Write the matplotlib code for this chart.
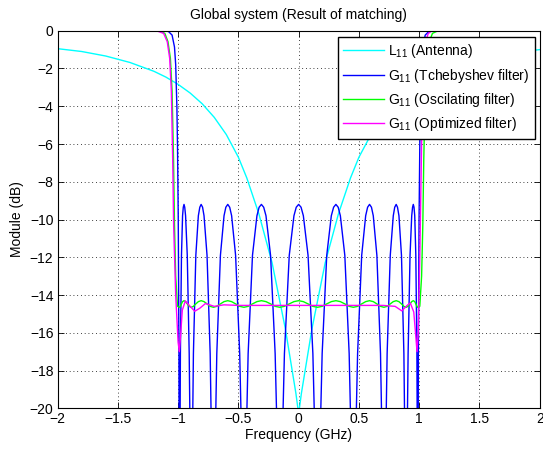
import matplotlib
matplotlib.use("Agg")
import matplotlib.pyplot as plt

plt.rcParams['font.family'] = ['Liberation Sans', 'DejaVu Sans']
plt.rcParams['mathtext.fontset'] = 'custom'
plt.rcParams['mathtext.rm'] = 'Liberation Sans'
plt.rcParams['font.size'] = 10

# L11 of the antenna alone
ant_f = [-2.0, -1.8, -1.6, -1.4, -1.2, -1.1, -1.0, -0.9, -0.8, -0.7, -0.6, -0.5, -0.43, -0.33,
         -0.22, -0.11, -0.023, 0.0,
         0.023, 0.11, 0.22, 0.33, 0.43, 0.5, 0.6, 0.7, 0.8, 0.9, 1.0, 1.1, 1.2, 1.4, 1.6, 1.8, 2.0]
ant_db = [-0.95, -1.1, -1.34, -1.68, -2.15, -2.46, -2.84, -3.3, -3.87, -4.59, -5.5, -6.7, -7.8, -9.7,
          -12.3, -15.8, -19.2, -20.3,
          -19.2, -15.8, -12.3, -9.7, -7.8, -6.7, -5.5, -4.59, -3.87, -3.3, -2.84, -2.46, -2.15, -1.68, -1.36,
          -1.14, -1.0]

# G11 with the Tchebyshev filter (nulls read below the axis at -40)
cheb_f = [-2.0, -1.12, -1.08, -1.05, -1.03, -1.02, -1.01, -1.005, -1.0,
          -0.999, -0.997, -0.993, -0.992, -0.988,
          -0.983, -0.981, -0.972, -0.963, -0.957, -0.951, -0.945, -0.938, -0.924, -0.908, -0.903, -0.891,
          -0.878, -0.873, -0.853, -0.832, -0.820, -0.809, -0.797, -0.785, -0.760, -0.734, -0.727, -0.707,
          -0.687, -0.679, -0.649, -0.619, -0.604, -0.588, -0.572, -0.556, -0.523, -0.489, -0.479, -0.454,
          -0.429, -0.419, -0.383, -0.346, -0.328, -0.309, -0.290, -0.271, -0.233, -0.195, -0.184, -0.156,
          -0.129, -0.118, -0.078, -0.039, -0.020, 0.0, 0.020, 0.039, 0.078, 0.118, 0.129,
          0.156, 0.184, 0.195, 0.233, 0.271, 0.290, 0.309, 0.328, 0.346, 0.383, 0.419, 0.429,
          0.454, 0.479, 0.489, 0.523, 0.556, 0.572, 0.588, 0.604, 0.619, 0.649, 0.679, 0.687,
          0.707, 0.727, 0.734, 0.760, 0.785, 0.797, 0.809, 0.820, 0.832, 0.853, 0.873, 0.878,
          0.891, 0.903, 0.908, 0.924, 0.938, 0.945, 0.951, 0.957, 0.963, 0.972, 0.981, 0.983,
          0.988, 0.992, 0.993, 0.997, 0.999,
          1.0, 1.005, 1.01, 1.02, 1.03, 1.05, 1.08, 1.12, 2.0]
cheb_db = [0.0, 0.0, -0.04, -0.23, -0.86, -1.8, -4.05, -6.1, -9.2,
           -9.8, -11.9, -17.1, -20.0, -40.0,
           -20.0, -17.1, -11.9, -9.8, -9.35, -9.2, -9.35, -9.8, -11.9, -17.1, -20.0, -40.0,
           -20.0, -17.1, -11.9, -9.8, -9.35, -9.2, -9.35, -9.8, -11.9, -17.1, -20.0, -40.0,
           -20.0, -17.1, -11.9, -9.8, -9.35, -9.2, -9.35, -9.8, -11.9, -17.1, -20.0, -40.0,
           -20.0, -17.1, -11.9, -9.8, -9.35, -9.2, -9.35, -9.8, -11.9, -17.1, -20.0, -40.0,
           -20.0, -17.1, -11.9, -9.8, -9.35, -9.2, -9.35, -9.8, -11.9, -17.1, -20.0,
           -40.0, -20.0, -17.1, -11.9, -9.8, -9.35, -9.2, -9.35, -9.8, -11.9, -17.1, -20.0,
           -40.0, -20.0, -17.1, -11.9, -9.8, -9.35, -9.2, -9.35, -9.8, -11.9, -17.1, -20.0,
           -40.0, -20.0, -17.1, -11.9, -9.8, -9.35, -9.2, -9.35, -9.8, -11.9, -17.1, -20.0,
           -40.0, -20.0, -17.1, -11.9, -9.8, -9.35, -9.2, -9.35, -9.8, -11.9, -17.1, -20.0,
           -40.0, -20.0, -17.1, -11.9, -9.8,
           -9.2, -6.1, -4.05, -1.8, -0.86, -0.23, -0.04, 0.0, 0.0]

# G11 with the oscillating filter
osc_f = [-2.0, -1.2, -1.15, -1.11, -1.084, -1.064, -1.05, -1.038, -1.03, -1.02, -1.005,
         -0.988, -0.981, -0.972, -0.963, -0.951, -0.938, -0.924, -0.908, -0.891,
         -0.873, -0.853, -0.832, -0.809, -0.785, -0.760, -0.734, -0.707,
         -0.679, -0.649, -0.619, -0.588, -0.556, -0.523, -0.489, -0.454,
         -0.419, -0.383, -0.346, -0.309, -0.271, -0.233, -0.195, -0.156,
         -0.118, -0.078, -0.039, 0.0, 0.039, 0.078, 0.118,
         0.156, 0.195, 0.233, 0.271, 0.309, 0.346, 0.383, 0.419,
         0.454, 0.489, 0.523, 0.556, 0.588, 0.619, 0.649, 0.679,
         0.707, 0.734, 0.760, 0.785, 0.809, 0.832, 0.853, 0.873,
         0.891, 0.908, 0.924, 0.938, 0.951, 0.963, 0.972, 0.981, 0.988,
         1.005, 1.02, 1.03, 1.038, 1.05, 1.064, 1.084, 1.11, 1.15, 1.2, 2.0]
osc_db = [0.0, 0.0, -0.02, -0.14, -0.58, -1.46, -3.2, -6.8, -10.3, -13.0, -14.6,
          -14.65, -14.6, -14.47, -14.35, -14.3, -14.35, -14.47, -14.6, -14.65,
          -14.6, -14.47, -14.35, -14.3, -14.35, -14.47, -14.6, -14.65,
          -14.6, -14.47, -14.35, -14.3, -14.35, -14.47, -14.6, -14.65,
          -14.6, -14.47, -14.35, -14.3, -14.35, -14.47, -14.6, -14.65,
          -14.6, -14.47, -14.35, -14.3, -14.35, -14.47, -14.6,
          -14.65, -14.6, -14.47, -14.35, -14.3, -14.35, -14.47, -14.6,
          -14.65, -14.6, -14.47, -14.35, -14.3, -14.35, -14.47, -14.6,
          -14.65, -14.6, -14.47, -14.35, -14.3, -14.35, -14.47, -14.6,
          -14.65, -14.6, -14.47, -14.35, -14.3, -14.35, -14.47, -14.6, -14.65,
          -14.6, -13.0, -10.3, -6.8, -3.2, -1.46, -0.58, -0.14, -0.02, 0.0, 0.0]

# G11 with the optimized filter
opt_f = [-2.0, -1.18, -1.12, -1.09, -1.07, -1.056, -1.045, -1.037, -1.02, -1.0, -0.99, -0.98,
         -0.965, -0.94, -0.90, -0.862, -0.82, -0.773, -0.70, -0.62, -0.5, -0.4, -0.3, -0.2, -0.1, 0.0,
         0.1, 0.2, 0.3, 0.4, 0.5, 0.6, 0.7, 0.8, 0.856, 0.90, 0.926, 0.955, 0.972, 0.982,
         0.992, 1.005, 1.015, 1.025, 1.035, 1.05, 1.075, 1.1, 1.18, 2.0]
opt_db = [0.0, 0.0, -0.14, -0.58, -1.46, -3.2, -6.8, -10.3, -14.0, -16.5, -17.0, -16.2,
          -14.8, -14.31, -14.6, -14.86, -14.7, -14.45, -14.6, -14.52, -14.55, -14.55, -14.55, -14.55, -14.55, -14.55,
          -14.55, -14.55, -14.55, -14.55, -14.55, -14.55, -14.55, -14.6, -14.84, -14.55, -14.42, -14.9, -16.2, -17.0,
          -16.0, -12.0, -8.0, -4.0, -1.8, -0.6, -0.15, -0.03, 0.0, 0.0]

freq_ticks = [-2, -1.5, -1, -0.5, 0, 0.5, 1, 1.5, 2]
freq_labels = ['\u22122', '\u22121.5', '\u22121', '\u22120.5', '0', '0.5', '1', '1.5', '2']
db_ticks = [0, -2, -4, -6, -8, -10, -12, -14, -16, -18, -20]

fig = plt.figure(figsize=(5.43, 4.5), dpi=100)
ax = fig.add_axes([0.106, 0.0927, 0.888, 0.839])

ax.plot(ant_f, ant_db, color=(0.0, 1.0, 1.0), lw=1.0, label=r'L$_{11}$ (Antenna)')
ax.plot(cheb_f, cheb_db, color=(0.0, 0.0, 1.0), lw=1.0, label=r'G$_{11}$ (Tchebyshev filter)')
ax.plot(osc_f, osc_db, color=(0.0, 1.0, 0.0), lw=1.0, label=r'G$_{11}$ (Oscilating filter)')
ax.plot(opt_f, opt_db, color=(1.0, 0.0, 1.0), lw=1.0, label=r'G$_{11}$ (Optimized filter)')

ax.set_xlim(-2, 2)
ax.set_ylim(-20, 0)
ax.set_xticks(freq_ticks)
ax.set_xticklabels(freq_labels)
ax.set_yticks(db_ticks)
ax.set_yticklabels(['0'] + ['\u2212%d' % abs(v) for v in db_ticks[1:]])
ax.tick_params(direction='in', length=4, width=0.6, top=True, right=True, labelsize=10, pad=3)
ax.grid(True, color='black', linestyle=(0, (1, 3.5)), linewidth=0.6)
for s in ax.spines.values():
    s.set_linewidth(0.8)

ax.set_title('Global system (Result of matching)', fontsize=10, pad=8.5)
ax.set_xlabel('Frequency (GHz)', fontsize=10, labelpad=1)
ax.set_ylabel('Module (dB)', fontsize=10, labelpad=4)

leg = ax.legend(loc='upper right', bbox_to_anchor=(0.9896, 0.984), borderaxespad=0,
                handlelength=2.9, handletextpad=0.3, fancybox=False, framealpha=1,
                edgecolor='black', fontsize=10, labelspacing=0.45, borderpad=0.4)
leg.get_frame().set_linewidth(1.0)

fig.savefig('out.png', dpi=100)
